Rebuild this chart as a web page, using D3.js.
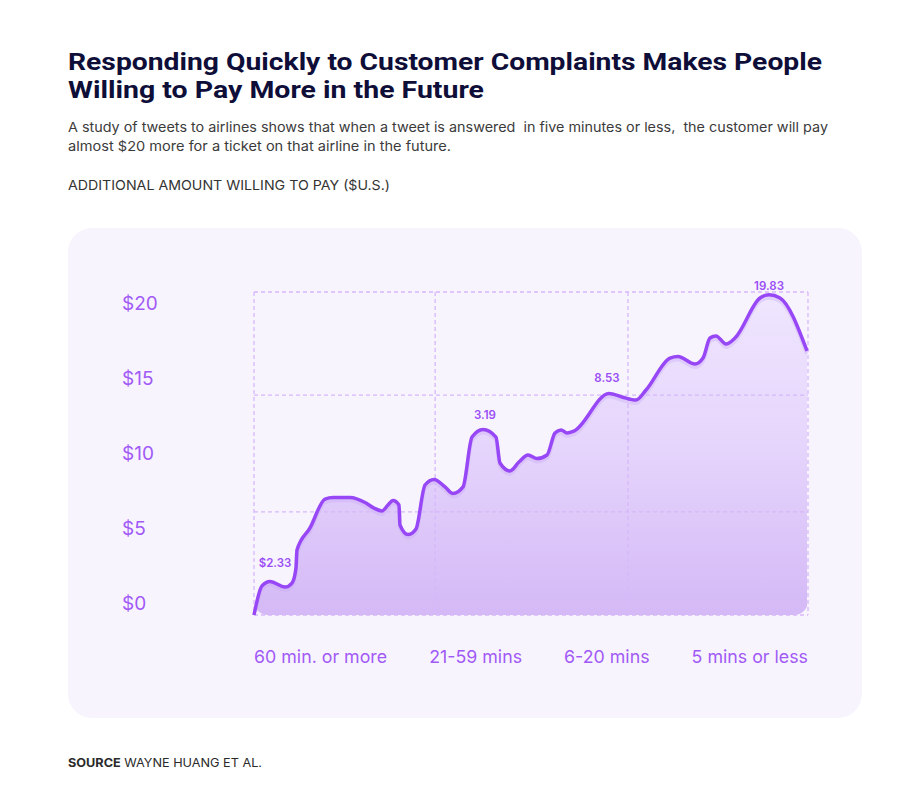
<!DOCTYPE html>
<html><head><meta charset="utf-8">
<script src="https://cdn.jsdelivr.net/npm/d3@7"></script>
<style>body{margin:0;background:#fff}text{white-space:pre}</style>
</head><body><svg id="c" width="922" height="804"></svg>
<script>
// ---- data ----
const curveX = [0,1.44,2.89,5.60,6.86,7.58,7.76,10.11,12.82,14.26,17.33,20.22,21.66,23.10,24.19,25.09,26.17,26.35,27.80,29.24,30.87,32.49,34.48,35.92,37.73,39.35,41.34,43.68,44.40,46.21,47.83,49.46,51.08,52.89,54.33,55.42,56.50,57.76,64.08,66.43,68.95,70.76,75.09,76.53,79.60,81.05,82.31,83.39,85.20,86.82,91.34,92.96,94.95,99.82];
const curveY = [0,1.80,2.07,1.73,1.98,2.91,4.02,5.39,7.18,7.28,7.28,6.93,6.62,6.44,6.81,7.09,6.81,5.57,4.98,5.33,8.05,8.39,7.93,7.52,7.93,11.02,11.49,11.02,9.41,8.92,9.47,9.91,9.69,9.91,11.27,11.46,11.27,11.39,13.72,13.50,13.31,13.93,15.91,16.01,15.54,15.91,17.15,17.28,16.78,17.15,19.63,19.83,19.63,16.35];
const gridX = [0, 32.7, 67.5, 100];
const gridY = [0, 6.38, 13.62, 20];
const yTicks = [0, 5, 10, 15, 20];
const categories = ["60 min. or more", "21-59 mins", "6-20 mins", "5 mins or less"];
const labelTexts = ["$2.33", "3.19", "8.53", "19.83"];
const labelX = [3.79, 41.7, 63.7, 92.96];
const labelY = [3.24, 12.38, 14.67, 20.39];
const titleLines = ["Responding Quickly to Customer Complaints Makes People", "Willing to Pay More in the Future"];
const subLines = ["A study of tweets to airlines shows that when a tweet is answered  in five minutes or less,  the customer will pay", "almost $20 more for a ticket on that airline in the future."];
const axisTitle = "ADDITIONAL AMOUNT WILLING TO PAY ($U.S.)";

// ---- drawing ----
const svg = d3.select("#c");
const purple = "#9747f5", labelPurple = "#a15af6", gridCol = "#d6b8fa";
const bodyFont = "Inter, 'Open Sans', sans-serif";

// header
const tW = [754, 416];
titleLines.forEach((t, i) => svg.append("text").attr("x", 68).attr("y", 69.8 + i * 28.6)
  .attr("font-family", "Roboto, sans-serif").attr("font-weight", 700).attr("font-size", 24.3)
  .attr("fill", "#0e0e38").attr("textLength", tW[i]).attr("lengthAdjust", "spacingAndGlyphs").text(t));
const sW = [760, 383];
subLines.forEach((t, i) => svg.append("text").attr("x", 68).attr("y", 132 + i * 18.5)
  .attr("font-family", bodyFont).attr("font-size", 13.5).attr("fill", "#3b3b3b")
  .attr("textLength", sW[i]).attr("lengthAdjust", "spacingAndGlyphs").text(t));
svg.append("text").attr("x", 68).attr("y", 189.5).attr("font-family", bodyFont).attr("font-size", 13.5)
  .attr("fill", "#333").attr("textLength", 322).attr("lengthAdjust", "spacingAndGlyphs").text(axisTitle);

// panel
svg.append("rect").attr("x", 68).attr("y", 228).attr("width", 794).attr("height", 490)
  .attr("rx", 24).attr("fill", "#f8f4fe");

const x = d3.scaleLinear().domain([0, 100]).range([254, 808]);
const y = d3.scaleLinear().domain([0, 20]).range([615, 292]);
const yLab = d3.scaleLinear().domain([0, 20]).range([603, 303]);

const defs = svg.append("defs");
const grad = defs.append("linearGradient").attr("id", "g").attr("gradientUnits", "userSpaceOnUse")
  .attr("x1", 0).attr("x2", 0).attr("y1", y(20)).attr("y2", y(0));
grad.append("stop").attr("offset", 0).attr("stop-color", "#efe6fe");
grad.append("stop").attr("offset", 0.45).attr("stop-color", "#e6d6fc");
grad.append("stop").attr("offset", 1).attr("stop-color", "#d4b9f6");
defs.append("clipPath").attr("id", "clip").append("rect")
  .attr("x", x(0)).attr("y", y(20) - 20).attr("width", x(100) - x(0)).attr("height", y(0) - y(20) + 20).attr("rx", 14);

const pts = curveX.map((d, i) => [d, curveY[i]]);
const area = d3.area().x(d => x(d[0])).y0(y(0)).y1(d => y(d[1])).curve(d3.curveMonotoneX);
const line = d3.line().x(d => x(d[0])).y(d => y(d[1])).curve(d3.curveMonotoneX);

svg.append("path").attr("d", area(pts)).attr("fill", "url(#g)").attr("clip-path", "url(#clip)");
// soft shadow below line
svg.append("path").attr("d", line(pts)).attr("fill", "none").attr("stroke", "#c8a6f7")
  .attr("stroke-width", 4).attr("opacity", 0.35).attr("transform", "translate(0,3)").attr("clip-path", "url(#clip)");

// grid
const grid = svg.append("g").attr("stroke", gridCol).attr("stroke-width", 1.3).attr("stroke-dasharray", "4,3");
grid.selectAll(".h").data(gridY).join("line").attr("x1", x(0)).attr("x2", x(100))
  .attr("y1", d => y(d)).attr("y2", d => y(d));
grid.selectAll(".v").data(gridX).join("line").attr("y1", y(20)).attr("y2", y(0))
  .attr("x1", d => x(d)).attr("x2", d => x(d));

svg.append("path").attr("d", line(pts)).attr("fill", "none").attr("stroke", purple)
  .attr("stroke-width", 3.5).attr("stroke-linejoin", "round").attr("stroke-linecap", "butt");

// data labels
svg.append("g").selectAll("text").data(labelTexts).join("text")
  .attr("x", (d, i) => x(labelX[i])).attr("y", (d, i) => y(labelY[i]))
  .attr("text-anchor", "middle").attr("dominant-baseline", "central")
  .attr("font-family", bodyFont).attr("font-weight", 600).attr("font-size", 11.5)
  .attr("fill", "#9a4ff5").text(d => d);

// y axis labels
const ya = svg.append("g").attr("transform", "translate(122,0)")
  .call(d3.axisLeft(yLab).tickValues(yTicks).tickSize(0).tickFormat(d => "$" + d));
ya.select(".domain").remove();
ya.selectAll("text").attr("x", 0).attr("text-anchor", "start").attr("dy", "0.35em")
  .attr("font-family", bodyFont).attr("font-size", 19).attr("fill", labelPurple);

// x category labels, laid out space-between across the plot width
const xl = svg.append("g").selectAll("text").data(categories).join("text")
  .attr("y", 663).attr("font-family", bodyFont).attr("font-size", 17.8).attr("fill", labelPurple).text(d => d);
const widths = xl.nodes().map(n => n.getComputedTextLength());
const gap = (x(100) - x(0) - d3.sum(widths)) / (categories.length - 1);
let cx = x(0);
xl.attr("x", (d, i) => { const p = cx; cx += widths[i] + gap; return p; });

// source
const src = svg.append("text").attr("x", 68).attr("y", 767).attr("font-family", bodyFont)
  .attr("font-size", 12).attr("fill", "#2a2a2a").attr("textLength", 194).attr("lengthAdjust", "spacingAndGlyphs");
src.append("tspan").attr("font-weight", 700).text("SOURCE");
src.append("tspan").text(" WAYNE HUANG ET AL.");
</script></body></html>
